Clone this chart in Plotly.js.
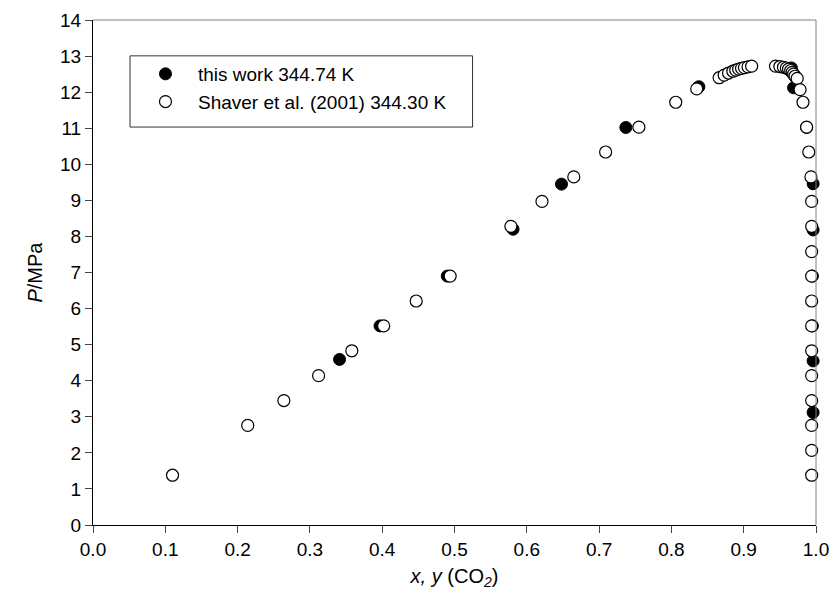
<!DOCTYPE html>
<html>
<head>
<meta charset="utf-8">
<script src="https://cdn.plot.ly/plotly-3.0.1.min.js"></script>
<style>html,body{margin:0;padding:0;background:#fff;}#chart{width:830px;height:604px;}</style>
</head>
<body>
<div id="chart"></div>
<script>
// This work 344.74 K
const thisWorkX = [0.341, 0.397, 0.490, 0.581, 0.648, 0.737, 0.838,
                   0.966, 0.969, 0.987, 0.996, 0.996, 0.995, 0.995, 0.996, 0.996];
const thisWorkP = [4.59, 5.52, 6.90, 8.20, 9.45, 11.02, 12.15,
                   12.67, 12.12, 11.02, 9.46, 8.18, 6.90, 5.52, 4.55, 3.12];

// Shaver et al. (2001) 344.30 K
const shaverX = [0.110, 0.214, 0.264, 0.312, 0.358, 0.402, 0.447, 0.494, 0.578, 0.621,
                 0.665, 0.709, 0.755, 0.806, 0.835, 0.866, 0.873, 0.879, 0.885, 0.889,
                 0.893, 0.897, 0.901, 0.906, 0.911,
                 0.944, 0.950, 0.955, 0.959, 0.962, 0.965, 0.967, 0.969, 0.971, 0.974,
                 0.978, 0.982, 0.987, 0.990, 0.993, 0.994, 0.994, 0.994, 0.994, 0.994,
                 0.994, 0.994, 0.994, 0.994, 0.994, 0.994, 0.994];
const shaverP = [1.38, 2.76, 3.45, 4.14, 4.83, 5.52, 6.21, 6.90, 8.28, 8.97,
                 9.65, 10.34, 11.03, 11.72, 12.09, 12.40, 12.47, 12.53, 12.58, 12.61,
                 12.64, 12.66, 12.68, 12.70, 12.72,
                 12.72, 12.71, 12.69, 12.67, 12.64, 12.60, 12.55, 12.50, 12.44, 12.38,
                 12.07, 11.72, 11.03, 10.34, 9.65, 8.97, 8.28, 7.58, 6.90, 6.21,
                 5.52, 4.83, 4.14, 3.45, 2.76, 2.07, 1.38];

const seriesNames = ['this work 344.74 K', 'Shaver et al. (2001) 344.30 K'];

const xTicks = [0.0, 0.1, 0.2, 0.3, 0.4, 0.5, 0.6, 0.7, 0.8, 0.9, 1.0];
const yTicks = [0, 1, 2, 3, 4, 5, 6, 7, 8, 9, 10, 11, 12, 13, 14];

const FONT = 'Liberation Sans, Arial, sans-serif';

const traces = [
  {
    x: thisWorkX, y: thisWorkP, type: 'scatter', mode: 'markers', name: seriesNames[0],
    cliponaxis: false,
    marker: {symbol: 'circle', size: 12, color: '#000000', line: {color: '#000000', width: 1}}
  },
  {
    x: shaverX, y: shaverP, type: 'scatter', mode: 'markers', name: seriesNames[1],
    cliponaxis: false,
    marker: {symbol: 'circle', size: 12, color: '#ffffff', line: {color: '#000000', width: 1.2}}
  }
];

const layout = {
  width: 830, height: 604,
  margin: {l: 93, r: 14, t: 20, b: 79},
  paper_bgcolor: '#ffffff', plot_bgcolor: '#ffffff',
  font: {family: FONT, color: '#000000', size: 19},
  showlegend: true,
  legend: {
    x: 0.0553, y: 0.9307, xanchor: 'left', yanchor: 'top',
    bgcolor: 'rgba(0,0,0,0)', borderwidth: 0,
    font: {family: FONT, size: 19, color: '#000000'},
    tracegroupgap: 0, itemwidth: 55
  },
  xaxis: {
    range: [0, 1], tickvals: xTicks, ticktext: xTicks.map(v => v.toFixed(1)),
    showgrid: false, zeroline: false,
    showline: true, linecolor: '#000000', linewidth: 1,
    ticks: 'outside', ticklen: 7, tickcolor: '#444444', tickwidth: 1,
    tickfont: {family: FONT, size: 19},
    title: {text: '<i>x, y</i> (CO<sub><i>2</i></sub>)', font: {family: FONT, size: 20}, standoff: 10}
  },
  yaxis: {
    range: [0, 14], tickvals: yTicks, ticktext: yTicks.map(String),
    showgrid: false, zeroline: false,
    showline: true, linecolor: '#000000', linewidth: 1,
    ticks: 'outside', ticklen: 7, tickcolor: '#444444', tickwidth: 1,
    tickfont: {family: FONT, size: 19},
    title: {text: '<i>P</i>/MPa', font: {family: FONT, size: 20}, standoff: 12}
  },
  shapes: [
    {type: 'line', xref: 'paper', yref: 'paper', x0: 0, x1: 1, y0: 1, y1: 1, line: {color: '#808080', width: 1}},
    {type: 'line', xref: 'paper', yref: 'paper', x0: 1, x1: 1, y0: 0, y1: 1, line: {color: '#808080', width: 1}},
    {type: 'rect', xref: 'paper', yref: 'paper', x0: 0.0512, x1: 0.525, y0: 0.788, y1: 0.929,
     line: {color: '#333333', width: 1}, fillcolor: 'rgba(0,0,0,0)', layer: 'above'}
  ]
};

Plotly.newPlot('chart', traces, layout, {displayModeBar: false, staticPlot: true});
</script>
</body>
</html>
